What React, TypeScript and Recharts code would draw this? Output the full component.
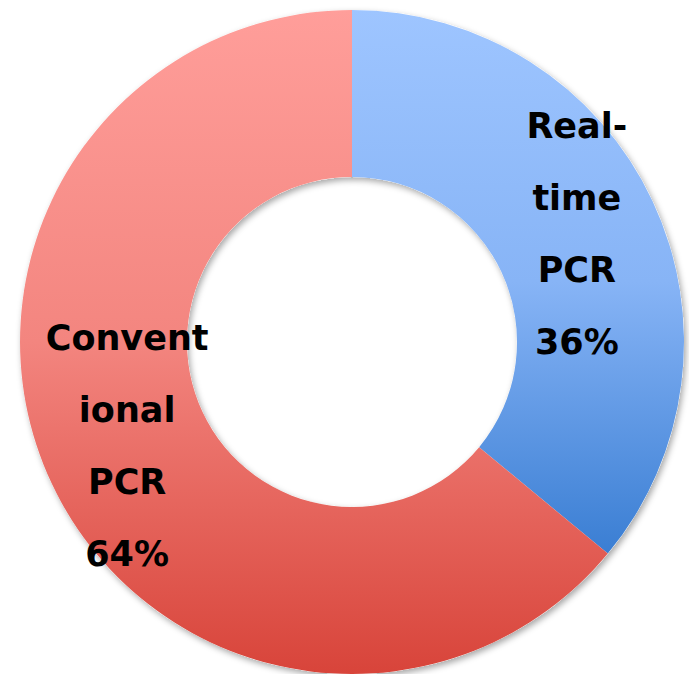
import { PieChart, Pie, Cell } from "recharts";

const categories = ["Real-time PCR", "Conventional PCR"];
const shares = [36, 64];
// label lines as they wrap in the picture
const labelLines = [
  ["Real-", "time", "PCR"],
  ["Convent", "ional", "PCR"],
];
const gradientIds = ["gradBlue", "gradRed"];

const data = categories.map((name, i) => ({ name, value: shares[i], lines: labelLines[i] }));
const ring = [{ name: "ring", value: shares.reduce((a, b) => a + b, 0) }];

const RAD = Math.PI / 180;
const FONT = "'DejaVu Sans', Verdana, sans-serif";

function renderLabel(props: any) {
  const { cx, cy, midAngle, innerRadius, outerRadius, index, value } = props;
  const r = (innerRadius + outerRadius) / 2;
  const x = cx + r * Math.cos(-midAngle * RAD);
  const y = cy + r * Math.sin(-midAngle * RAD);
  const lines = [...data[index].lines, `${value}%`];
  const gap = 72;
  const firstBaseline = y - ((lines.length - 1) * gap) / 2 + 10;
  return (
    <text
      key={`lbl-${index}`}
      x={x}
      textAnchor="middle"
      fill="#000"
      fontFamily={FONT}
      fontWeight={700}
      fontSize={35}
    >
      {lines.map((l, i) => (
        <tspan key={i} x={x} y={firstBaseline + i * gap}>
          {l}
        </tspan>
      ))}
    </text>
  );
}

export default function App() {
  return (
    <div style={{ position: "absolute", left: 0, top: 0, width: 689, height: 674, background: "#fff" }}>
      <svg width={0} height={0} style={{ position: "absolute" }}>
        <defs>
          <linearGradient id="gradBlue" x1="0" y1="0" x2="0" y2="1">
            <stop offset="0%" stopColor="#9ec5ff" />
            <stop offset="50%" stopColor="#87b4f6" />
            <stop offset="100%" stopColor="#3a7ed3" />
          </linearGradient>
          <linearGradient id="gradRed" x1="0" y1="0" x2="0" y2="1">
            <stop offset="0%" stopColor="#ff9e9a" />
            <stop offset="50%" stopColor="#f3857f" />
            <stop offset="100%" stopColor="#d8443a" />
          </linearGradient>
          <filter id="ringShadow" x="-10%" y="-10%" width="120%" height="120%">
            <feDropShadow dx="2" dy="3" stdDeviation="3" floodColor="#000" floodOpacity="0.35" />
          </filter>
        </defs>
      </svg>
      <PieChart width={689} height={674} margin={{ top: 0, right: 0, bottom: 0, left: 0 }}>
        <Pie
          data={ring}
          dataKey="value"
          cx={352}
          cy={342}
          innerRadius={165}
          outerRadius={332}
          startAngle={90}
          endAngle={-270}
          stroke="none"
          fill="#fff"
          style={{ filter: "url(#ringShadow)" }}
          isAnimationActive={false}
          label={false}
          labelLine={false}
        />
        <Pie
          data={data}
          dataKey="value"
          nameKey="name"
          cx={352}
          cy={342}
          innerRadius={165}
          outerRadius={332}
          startAngle={90}
          endAngle={-270}
          stroke="none"
          isAnimationActive={false}
          label={renderLabel}
          labelLine={false}
        >
          {data.map((d, i) => (
            <Cell key={d.name} fill={`url(#${gradientIds[i]})`} />
          ))}
        </Pie>
      </PieChart>
    </div>
  );
}
